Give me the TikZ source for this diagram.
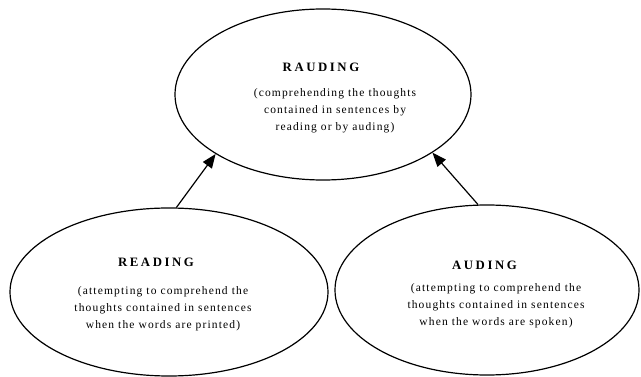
\documentclass[tikz,border=0pt]{standalone}
\usepackage{fontspec}
\setmainfont{Liberation Serif}
\newfontfamily\bodyfont[LetterSpace=10]{Liberation Serif}
\newfontfamily\headfont[LetterSpace=20]{Liberation Serif}
\usetikzlibrary{shapes.geometric,arrows.meta}
\begin{document}
\begin{tikzpicture}[x=1pt,y=-1pt,
  oval/.style={draw, ellipse, line width=1.2pt, inner sep=0pt},
  headtext/.style={font=\headfont\bfseries\fontsize{12.8}{15}\selectfont, inner sep=0pt, anchor=base},
  bodytext/.style={font=\bodyfont\fontsize{11.5}{17}\selectfont, align=center, inner sep=0pt},
  link/.style={line width=1.2pt, -{Triangle[length=14pt,width=11pt]}}]
\useasboundingbox (0,0) rectangle (641,377);
\node[oval, minimum width=296pt, minimum height=171pt] (raud) at (323,94.5) {};
\node[oval, minimum width=318pt, minimum height=168pt] (read) at (169,292) {};
\node[oval, minimum width=304pt, minimum height=170pt] (aud) at (487,290) {};
\node[headtext] (raudh) at (321,72) {RAUDING};
\node[bodytext] (raudb) at (335,111) {(comprehending the thoughts\\contained in sentences by\\reading or by auding)};
\node[headtext] (readh) at (156,267) {READING};
\node[bodytext] (readb) at (163,309) {(attempting to comprehend the\\thoughts contained in sentences\\when the words are printed)};
\node[headtext] (audh) at (484.5,270) {AUDING};
\node[bodytext] (audb) at (496,306) {(attempting to comprehend the\\thoughts contained in sentences\\when the words are spoken)};
\draw[link] (read.85) -- (raud.209);
\draw[link] (aud.96) -- (raud.332);
\end{tikzpicture}
\end{document}
